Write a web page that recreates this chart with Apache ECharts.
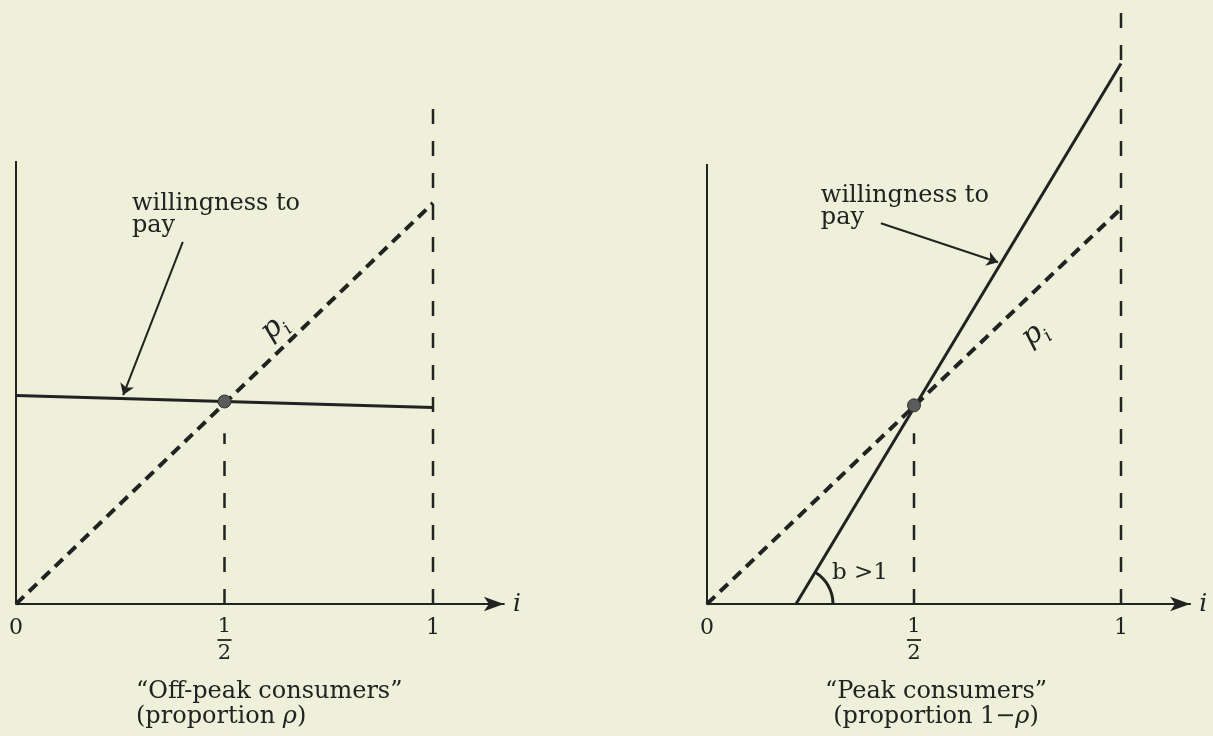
<!DOCTYPE html>
<html>
<head>
<meta charset="utf-8">
<script src="https://cdn.jsdelivr.net/npm/echarts@6/dist/echarts.min.js"></script>
<style>
  html, body { margin: 0; padding: 0; background: #eef0da; }
  #chart { width: 1213px; height: 736px; }
</style>
</head>
<body>
<div id="chart"></div>
<script>
// axis ticks along i
const tickValues = [0, 0.5, 1];
const tickLabels = ['0', 'half', '1'];

// off-peak consumers (left panel), x = i, y = price
const offAxisY = [[0, 0], [0, 1.105]];
const offPrice = [[0, 0], [1, 1]];
const offWillingness = [[0, 0.52], [1, 0.49]];
const offGuideOne = [[1, 0], [1, 1.264]];
const offGuideHalf = [[0.5, 0], [0.5, 0.426]];
const offCrossing = [[0.5, 0.505]];
const offPointer = [[0.40, 0.903], [0.257, 0.521]];
const offTextAt = [[0.278, 1.025]];
const offPriceTextAt = [[0.623, 0.685]];

// peak consumers (right panel)
const peakAxisY = [[0, 0], [0, 1.107]];
const peakPrice = [[0, 0], [1, 0.995]];
const peakWillingness = [[0.215, 0], [1, 1.36]];
const peakGuideOne = [[1, 0], [1, 1.52]];
const peakGuideHalf = [[0.5, 0], [0.5, 0.43]];
const peakCrossing = [[0.5, 0.5]];
const peakPointer = [[0.42, 0.958], [0.703, 0.86]];
const peakTextAt = [[0.275, 1.055]];
const peakPriceTextAt = [[0.795, 0.675]];
const peakSlopeTextAt = [[0.302, 0.077]];

const ink = '#222222';
const serif = 'DejaVu Serif';

const chart = echarts.init(document.getElementById('chart'));

function xAxisFor(gridIndex) {
  return {
    gridIndex: gridIndex,
    type: 'value',
    min: 0,
    max: gridIndex === 0 ? 1.17 : 1.167,
    interval: 0.5,
    name: 'i',
    nameLocation: 'end',
    nameGap: 9,
    nameTextStyle: { fontFamily: serif, fontStyle: 'italic', fontSize: 25, color: ink, verticalAlign: 'middle' },
    axisLine: { show: true, lineStyle: { color: ink, width: 2 }, symbol: ['none', 'arrow'], symbolSize: [11, 20] },
    axisTick: { show: false },
    splitLine: { show: false },
    axisLabel: {
      margin: 12,
      color: ink,
      fontFamily: serif,
      fontSize: 22,
      lineHeight: 24,
      formatter: function (v) {
        const k = tickValues.indexOf(v);
        if (k < 0) return '';
        if (tickLabels[k] === 'half') return '{n|1}\n{bar| }\n{n|2}';
        return tickLabels[k];
      },
      rich: {
        n: { fontFamily: serif, fontSize: 21, lineHeight: 21, color: ink, align: 'center' },
        bar: { width: 14, height: 1.8, lineHeight: 6, backgroundColor: ink, fontSize: 2, align: 'center' }
      }
    }
  };
}

function yAxisFor(gridIndex, max) {
  return { gridIndex: gridIndex, type: 'value', min: 0, max: max, show: false };
}

function line(idx, data, width, dash) {
  return {
    type: 'line', xAxisIndex: idx, yAxisIndex: idx, data: data,
    symbol: 'none', silent: true,
    lineStyle: { color: ink, width: width, type: dash || 'solid' }
  };
}

function dot(idx, data) {
  return {
    type: 'scatter', xAxisIndex: idx, yAxisIndex: idx, data: data, symbolSize: 13, z: 5,
    itemStyle: { color: '#5b5b5b', borderColor: '#333', borderWidth: 1, opacity: 1 }
  };
}

function pointer(idx, coords) {
  return {
    type: 'lines', coordinateSystem: 'cartesian2d', xAxisIndex: idx, yAxisIndex: idx,
    symbol: ['none', 'arrow'], symbolSize: 11,
    lineStyle: { color: ink, width: 2, opacity: 1 },
    data: [{ coords: coords }]
  };
}

function note(idx, data, text, extra) {
  return {
    type: 'scatter', xAxisIndex: idx, yAxisIndex: idx, data: data, symbolSize: 0, silent: true,
    itemStyle: { opacity: 1 },
    label: Object.assign({
      show: true, position: [0, 0], align: 'left', verticalAlign: 'top',
      formatter: text, color: ink, fontFamily: serif, fontSize: 24, lineHeight: 22
    }, extra || {})
  };
}

const priceRich = {
  p: { fontFamily: serif, fontStyle: 'italic', fontSize: 29, color: ink, lineHeight: 34, verticalAlign: 'top' },
  s: { fontFamily: serif, fontStyle: 'italic', fontSize: 18, color: ink, lineHeight: 34, verticalAlign: 'bottom' }
};

const option = {
  backgroundColor: '#eef0da',
  animation: false,
  grid: [
    { left: 16, top: 604 - 1.264 * 401, width: 1.17 * 417, height: 1.264 * 401 },
    { left: 707, top: 604 - 1.52 * 401, width: 1.167 * 414, height: 1.52 * 401 }
  ],
  xAxis: [xAxisFor(0), xAxisFor(1)],
  yAxis: [yAxisFor(0, 1.264), yAxisFor(1, 1.52)],
  graphic: [
    {
      type: 'text', left: 136, top: 679,
      style: {
        text: '“Off-peak consumers”\n(proportion {it|ρ})',
        font: '24px "DejaVu Serif"', fill: ink, lineHeight: 25,
        rich: { it: { fontFamily: serif, fontStyle: 'italic', fontSize: 24, fill: ink } }
      }
    },
    {
      type: 'text', x: 936, y: 679,
      style: {
        text: '“Peak consumers”\n(proportion 1−{it|ρ})',
        font: '24px "DejaVu Serif"', fill: ink, lineHeight: 25, align: 'center',
        rich: { it: { fontFamily: serif, fontStyle: 'italic', fontSize: 24, fill: ink } }
      }
    }
  ],
  series: [
    line(0, offAxisY, 2),
    line(0, offPrice, 4, [11, 7]),
    line(0, offWillingness, 3),
    line(0, offGuideOne, 2.5, [15, 17]),
    line(0, offGuideHalf, 2.5, [15, 17]),
    dot(0, offCrossing),
    pointer(0, offPointer),
    note(0, offTextAt, 'willingness to\npay'),
    note(0, offPriceTextAt, '{p|p}{s|i}', { align: 'center', verticalAlign: 'middle', rotate: 42, rich: priceRich }),

    line(1, peakAxisY, 2),
    line(1, peakPrice, 4, [11, 7]),
    line(1, peakWillingness, 3),
    line(1, peakGuideOne, 2.5, [15, 17]),
    line(1, peakGuideHalf, 2.5, [15, 17]),
    dot(1, peakCrossing),
    pointer(1, peakPointer),
    note(1, peakTextAt, 'willingness to\npay'),
    note(1, peakPriceTextAt, '{p|p}{s|i}', { align: 'center', verticalAlign: 'middle', rotate: 38, rich: priceRich }),
    note(1, peakSlopeTextAt, 'b >1', { verticalAlign: 'middle', fontSize: 23 }),
    {
      type: 'custom', xAxisIndex: 1, yAxisIndex: 1, silent: true,
      data: [peakWillingness[0]],
      renderItem: function (params, api) {
        const c = api.coord([api.value(0), api.value(1)]);
        const far = api.coord(peakWillingness[1]);
        const ang = Math.atan2(c[1] - far[1], far[0] - c[0]);
        return {
          type: 'arc',
          shape: { cx: c[0], cy: c[1], r: 37, startAngle: -ang, endAngle: 0 },
          style: { stroke: ink, fill: null, lineWidth: 3 }
        };
      }
    }
  ]
};

chart.setOption(option);
</script>
</body>
</html>
